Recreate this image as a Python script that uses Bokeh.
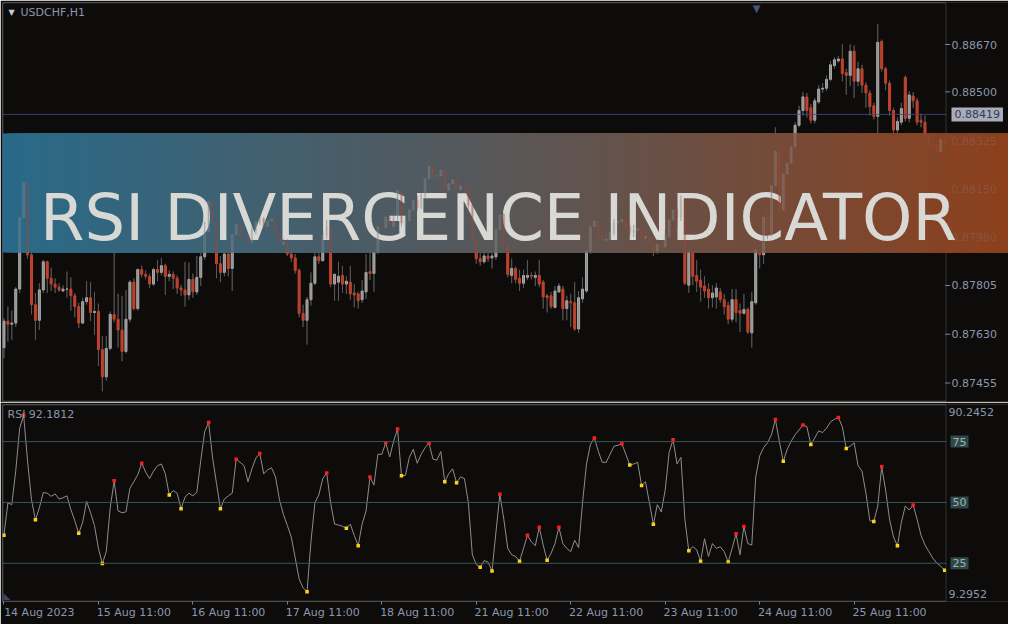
from bokeh.plotting import figure
from bokeh.layouts import column
from bokeh.models import (ColumnDataSource, Range1d, FixedTicker, LinearAxis,
                          Span, Label, BoxAnnotation)
from bokeh.embed import file_html
from bokeh.resources import INLINE

# ------------------------------------------------------------------ data
# USDCHF H1 candles, prices in points (1 point = 0.00001)
opens_pts = [
    87582, 87677, 87666, 87670, 87792, 88048, 88174, 87915, 87736, 87680,
    87789, 87890, 87831, 87810, 87799, 87785, 87792, 87792, 87768, 87729,
    87670, 87747, 87761, 87708, 87712, 87575, 87477, 87579, 87701, 87684,
    87645, 87568, 87684, 87817, 87722, 87862, 87845, 87838, 87810, 87862,
    87852, 87876, 87838, 87845, 87831, 87796, 87789, 87771, 87827, 87782,
    87834, 87908, 87999, 88107, 88041, 87883, 87852, 87918, 87866, 87988,
    88023, 87981, 87978, 87960, 88002, 88034, 88044, 88016, 88037, 88044,
    87988, 87953, 87960, 87918, 87904, 87859, 87705, 87680, 87754, 87813,
    87908, 87894, 87985, 88016, 87810, 87817, 87841, 87810, 87817, 87778,
    87775, 87754, 87782, 87855, 87848, 87925, 88016, 88013, 88051, 88016,
    88051, 88146, 88030, 88037, 88076, 88111, 88086, 88128, 88188, 88233,
    88198, 88198, 88219, 88146, 88170, 88184, 88149, 88163, 88156, 88093,
    87971, 87901, 87890, 87911, 87904, 87908, 88006, 88058, 87953, 87841,
    87866, 87831, 87813, 87834, 87841, 87834, 87841, 87817, 87768, 87768,
    87726, 87782, 87792, 87722, 87747, 87743, 87649, 87757, 87785, 87929,
    88016, 88037, 87988, 87967, 87971, 87995, 88030, 88034, 88041, 88016,
    87995, 88002, 88009, 87974, 87981, 87953, 87929, 87953, 87943, 87981,
    88041, 88076, 88051, 88111, 87806, 87925, 87841, 87824, 87803, 87792,
    87761, 87764, 87782, 87754, 87733, 87684, 87754, 87715, 87705, 87719,
    87635, 87743, 87925, 87915, 88058, 87988, 88163, 88286, 88076, 88205,
    88244, 88303, 88380, 88433, 88482, 88443, 88398, 88464, 88510, 88513,
    88545, 88594, 88611, 88618, 88569, 88559, 88646, 88538, 88583, 88524,
    88496, 88450, 88412, 88681, 88583, 88531, 88433, 88363, 88391, 88552,
    88405, 88485, 88468, 88398, 88391, 88338, 88317, 88307, 88286, 88328,
]
highs_pts = [
    87687, 87729, 87715, 87799, 88076, 88188, 88181, 87929, 87778, 87813,
    87897, 87894, 87869, 87831, 87813, 87806, 87855, 87834, 87778, 87743,
    87761, 87820, 87817, 87782, 87740, 87624, 87624, 87712, 87960, 87775,
    87768, 87789, 87824, 87831, 87866, 87876, 87859, 87848, 87869, 87897,
    87904, 87883, 87859, 87855, 87841, 87806, 87890, 87887, 87848, 87911,
    87939, 88034, 88128, 88114, 88051, 87911, 87936, 87943, 88002, 88051,
    88030, 88002, 87988, 88016, 88051, 88065, 88051, 88055, 88058, 88058,
    88002, 87974, 87971, 87936, 87918, 87866, 87736, 87764, 87852, 87936,
    87925, 88006, 88041, 88023, 87848, 87890, 87876, 87838, 87876, 87810,
    87782, 87824, 87918, 87922, 87953, 88041, 88044, 88076, 88065, 88079,
    88163, 88156, 88086, 88093, 88118, 88128, 88142, 88205, 88268, 88244,
    88226, 88233, 88240, 88181, 88198, 88191, 88177, 88181, 88170, 88111,
    87988, 87936, 87925, 87932, 87925, 88023, 88076, 88065, 87960, 87901,
    87873, 87862, 87862, 87897, 87852, 87855, 87897, 87824, 87775, 87782,
    87803, 87813, 87803, 87768, 87775, 87817, 87785, 87834, 87932, 88037,
    88051, 88044, 88006, 87995, 88009, 88044, 88051, 88058, 88048, 88030,
    88023, 88030, 88023, 87995, 87988, 87964, 87971, 87967, 88002, 88058,
    88086, 88086, 88128, 88118, 87932, 87936, 87897, 87862, 87838, 87813,
    87806, 87813, 87796, 87775, 87747, 87792, 87792, 87740, 87775, 87726,
    87782, 87943, 87953, 88076, 88083, 88177, 88373, 88296, 88233, 88261,
    88321, 88391, 88450, 88499, 88496, 88457, 88478, 88524, 88531, 88559,
    88611, 88625, 88629, 88671, 88583, 88671, 88667, 88608, 88597, 88534,
    88506, 88461, 88744, 88688, 88590, 88541, 88443, 88408, 88461, 88559,
    88503, 88499, 88478, 88422, 88415, 88345, 88328, 88321, 88345, 88338,
]
lows_pts = [
    87544, 87603, 87610, 87656, 87778, 88041, 87901, 87701, 87610, 87645,
    87778, 87778, 87785, 87778, 87782, 87782, 87761, 87715, 87691, 87652,
    87666, 87736, 87677, 87628, 87516, 87425, 87463, 87572, 87673, 87582,
    87533, 87561, 87673, 87715, 87715, 87834, 87827, 87796, 87803, 87820,
    87841, 87771, 87820, 87792, 87775, 87768, 87729, 87754, 87761, 87771,
    87803, 87897, 87978, 88023, 87831, 87817, 87838, 87838, 87785, 87960,
    87967, 87953, 87946, 87953, 87988, 88023, 88002, 88006, 88016, 87978,
    87943, 87939, 87911, 87890, 87848, 87691, 87656, 87593, 87733, 87806,
    87883, 87890, 87971, 87799, 87750, 87750, 87778, 87775, 87754, 87726,
    87722, 87743, 87757, 87824, 87782, 87918, 87988, 88002, 88009, 88009,
    88037, 88016, 87988, 88023, 88065, 88072, 88079, 88118, 88177, 88188,
    88177, 88184, 88135, 88128, 88156, 88135, 88135, 88142, 88079, 87953,
    87883, 87876, 87883, 87890, 87866, 87897, 87995, 87936, 87834, 87813,
    87813, 87785, 87796, 87824, 87827, 87803, 87799, 87722, 87708, 87722,
    87722, 87778, 87680, 87680, 87656, 87642, 87635, 87743, 87778, 87918,
    87988, 87960, 87953, 87953, 87964, 87985, 88016, 88020, 87995, 87981,
    87978, 87988, 87960, 87957, 87939, 87911, 87918, 87925, 87932, 87971,
    88030, 88016, 88037, 87806, 87778, 87806, 87782, 87747, 87761, 87722,
    87726, 87722, 87743, 87701, 87666, 87673, 87673, 87638, 87701, 87631,
    87582, 87736, 87866, 87883, 87971, 87981, 88146, 88058, 88065, 88191,
    88233, 88296, 88373, 88415, 88408, 88387, 88387, 88457, 88496, 88503,
    88538, 88583, 88604, 88538, 88489, 88520, 88478, 88520, 88496, 88443,
    88415, 88401, 88338, 88573, 88506, 88415, 88352, 88352, 88380, 88394,
    88391, 88443, 88380, 88373, 88321, 88303, 88240, 88233, 88275, 88296,
]
closes_pts = [
    87677, 87666, 87670, 87792, 88048, 88174, 87915, 87736, 87680, 87789,
    87890, 87831, 87810, 87799, 87789, 87792, 87792, 87768, 87729, 87670,
    87747, 87761, 87708, 87712, 87575, 87477, 87579, 87701, 87684, 87645,
    87568, 87684, 87817, 87722, 87862, 87845, 87838, 87810, 87862, 87852,
    87876, 87838, 87845, 87831, 87796, 87789, 87771, 87827, 87782, 87834,
    87908, 87999, 88107, 88041, 87883, 87852, 87918, 87866, 87988, 88023,
    87981, 87978, 87960, 88002, 88034, 88044, 88016, 88037, 88044, 87988,
    87960, 87960, 87918, 87904, 87859, 87705, 87680, 87754, 87813, 87908,
    87894, 87985, 88016, 87810, 87845, 87838, 87810, 87820, 87775, 87771,
    87750, 87785, 87852, 87848, 87925, 88016, 88013, 88051, 88016, 88051,
    88146, 88030, 88037, 88076, 88111, 88086, 88128, 88188, 88233, 88198,
    88198, 88219, 88146, 88170, 88184, 88149, 88163, 88156, 88093, 87971,
    87901, 87890, 87911, 87901, 87911, 88006, 88058, 87953, 87845, 87866,
    87827, 87813, 87841, 87841, 87838, 87841, 87810, 87764, 87761, 87729,
    87785, 87803, 87722, 87750, 87743, 87649, 87761, 87792, 87929, 88016,
    88037, 87988, 87967, 87971, 87995, 88030, 88034, 88041, 88016, 87995,
    88002, 88009, 87974, 87981, 87953, 87929, 87953, 87943, 87981, 88041,
    88076, 88051, 88111, 87813, 87925, 87838, 87820, 87799, 87785, 87761,
    87778, 87796, 87754, 87729, 87684, 87754, 87708, 87705, 87719, 87638,
    87747, 87932, 87915, 88051, 87985, 88163, 88286, 88076, 88205, 88244,
    88303, 88380, 88433, 88482, 88433, 88398, 88468, 88510, 88513, 88545,
    88597, 88615, 88618, 88566, 88559, 88646, 88538, 88583, 88524, 88496,
    88447, 88412, 88678, 88583, 88531, 88433, 88363, 88394, 88440, 88405,
    88489, 88468, 88391, 88391, 88338, 88317, 88303, 88286, 88328, 88310,
]
# RSI values, one per bar
rsi_values = [
    36.5, 49.8, 49.1, 63.1, 80.5, 85.8, 67.1, 51.1, 42.9, 47.8,
    54.1, 53.8, 52.5, 53.5, 51.4, 51.9, 52.7, 47.1, 42.5, 37.3,
    41.8, 50.5, 45.8, 40.5, 31.1, 24.9, 29.8, 47.8, 58.9, 46.5,
    45.8, 46.1, 55.8, 58.5, 61.4, 66.1, 62.5, 59.8, 62.9, 65.1,
    65.8, 61.8, 53.1, 54.9, 53.8, 47.4, 52.2, 53.8, 52.7, 54.1,
    67.1, 79.1, 82.9, 68.5, 57.8, 47.4, 51.4, 52.7, 53.8, 67.7,
    66.5, 65.1, 58.5, 63.8, 68.2, 70.1, 61.8, 63.4, 64.2, 60.5,
    51.1, 45.1, 40.5, 35.8, 27.2, 18.5, 14.9, 13.3, 33.8, 49.8,
    53.1, 59.8, 62.1, 49.8, 41.1, 40.7, 40.2, 39.4, 41.1, 36.5,
    32.2, 41.1, 46.5, 60.5, 57.1, 69.8, 69.8, 74.5, 68.7, 75.1,
    80.2, 61.0, 61.1, 68.5, 71.8, 66.1, 69.8, 72.5, 74.3, 67.8,
    67.4, 70.9, 58.5, 61.8, 63.8, 58.1, 60.5, 59.8, 49.8, 28.5,
    24.5, 23.4, 26.1, 25.5, 21.8, 37.8, 53.4, 43.1, 31.1, 28.5,
    27.8, 25.8, 31.1, 36.5, 33.8, 32.2, 39.8, 32.5, 26.2, 29.1,
    33.1, 39.8, 33.1, 31.1, 29.8, 34.5, 31.4, 49.8, 65.8, 73.8,
    76.5, 71.1, 66.5, 66.5, 69.8, 73.1, 73.5, 74.1, 69.8, 65.4,
    65.8, 66.5, 57.0, 58.5, 49.8, 41.0, 49.1, 46.1, 55.1, 70.5,
    75.8, 65.8, 68.5, 43.1, 30.1, 31.8, 30.5, 25.8, 35.1, 27.8,
    33.1, 31.1, 31.8, 29.8, 25.5, 31.1, 37.1, 28.5, 40.1, 33.1,
    32.5, 60.5, 69.1, 72.5, 74.5, 77.8, 84.1, 75.1, 66.9, 71.8,
    75.1, 77.8, 79.8, 81.8, 81.1, 73.8, 76.5, 79.4, 78.7, 80.5,
    83.1, 84.2, 84.9, 81.1, 72.2, 73.1, 74.5, 65.1, 62.9, 53.8,
    42.5, 42.2, 48.5, 64.7, 55.1, 43.1, 35.8, 32.2, 41.8, 48.5,
    46.9, 48.9, 43.1, 36.5, 32.5, 29.8, 27.1, 25.1, 23.8, 22.1,
]
# divergence markers (bar indices)
peak_bars = [5, 28, 35, 52, 59, 65, 82, 93, 97, 100, 108, 126, 133, 136, 141,
             150, 157, 170, 186, 188, 196, 203, 212, 223, 231]
trough_bars = [0, 8, 19, 25, 42, 45, 55, 77, 87, 90, 101, 112, 115, 121, 124,
               131, 138, 159, 162, 165, 174, 177, 184, 198, 205, 214, 221, 227, 239]

date_tick_bars = [0, 24, 48, 72, 96, 120, 144, 168, 192, 216]
date_labels = ["14 Aug 2023", "15 Aug 11:00", "16 Aug 11:00", "17 Aug 11:00",
               "18 Aug 11:00", "21 Aug 11:00", "22 Aug 11:00", "23 Aug 11:00",
               "24 Aug 11:00", "25 Aug 11:00"]
price_ticks = [0.87455, 0.87630, 0.87805, 0.87980, 0.88150, 0.88325, 0.88500, 0.88670]
current_price = 0.88419
rsi_levels = [25, 50, 75]
rsi_low, rsi_high = 9.2952, 90.2452
symbol_text = "USDCHF,H1"
rsi_caption = "RSI 92.1812"
banner_text = "RSI DIVERGENCE INDICATOR"

# ------------------------------------------------------------------ layout / style
FIG_W = 1008
FRAME_L = 2
FRAME_W = FIG_W - FRAME_L          # frames run to the right edge
P_H, P_FRAME_H = 402, 399
R_H, R_FRAME_H = 222, 197
BORDER = 943                        # frame-relative x of the chart's right border
COL_X = 949                         # frame-relative x of the right-hand value column
BAR_PX = 3.936
X0 = -0.367
X1 = X0 + FRAME_W / BAR_PX
BORDER_I = X0 + BORDER / BAR_PX
P_MIN, P_MAX = 0.873885, 0.888208

BG = "#0e0c0a"
OUTLINE = "#7e8699"
TXT = "#8b97ae"
BULL = "#acacac"
BEAR = "#cf4229"
WICK = "#5a5a5a"
FONT = "DejaVu Sans"

# ------------------------------------------------------------------ price panel
n = len(closes_pts)
idx = list(range(n))
o = [v / 1e5 for v in opens_pts]
h = [v / 1e5 for v in highs_pts]
l = [v / 1e5 for v in lows_pts]
c = [v / 1e5 for v in closes_pts]
src = ColumnDataSource(dict(
    i=idx, high=h, low=l,
    top=[max(a, b) for a, b in zip(o, c)],
    bot=[min(a, b) for a, b in zip(o, c)],
    color=[BULL if cc >= oo else BEAR for oo, cc in zip(o, c)],
))

x_range = Range1d(X0, X1)
common = dict(output_backend="svg", toolbar_location=None,
              x_axis_location=None, y_axis_location=None,
              min_border_left=FRAME_L, min_border_right=0,
              background_fill_color=BG, border_fill_color=BG,
              outline_line_color=None)
p = figure(width=FIG_W, height=P_H, x_range=x_range, y_range=Range1d(P_MIN, P_MAX),
           min_border_top=2, min_border_bottom=1, **common)
p.grid.visible = False

p.segment(x0="i", y0="low", x1="i", y1="high", source=src, line_color=WICK, line_width=1)
p.vbar(x="i", width=0.5, top="top", bottom="bot", source=src,
       fill_color="color", line_color="color", line_width=1)

p.add_layout(Span(location=current_price, dimension="width",
                  line_color="#3c3c7a", line_width=1))

band_top, band_bot = 268, 149
band_hi = P_MIN + band_top / P_FRAME_H * (P_MAX - P_MIN)
band_lo = P_MIN + band_bot / P_FRAME_H * (P_MAX - P_MIN)
ticks_out = [t for t in price_ticks if not (band_lo <= t <= band_hi)]
ticks_in = [t for t in price_ticks if band_lo <= t <= band_hi]

# tick marks of the value column (under the banner)
p.scatter([BORDER_I + 0.55] * len(ticks_in), ticks_in, marker="dash", size=5,
          line_color=OUTLINE, line_width=1)

# cover the value column so that horizontal lines stop at the border
p.add_layout(BoxAnnotation(left=BORDER + 0.6, right=FRAME_W + 5, bottom=-5, top=P_FRAME_H + 5,
                           left_units="screen", right_units="screen",
                           top_units="screen", bottom_units="screen",
                           fill_color=BG, fill_alpha=1, line_color=None))
p.add_layout(BoxAnnotation(left=0.5, right=BORDER + 0.5, bottom=0.5, top=P_FRAME_H - 0.5,
                           left_units="screen", right_units="screen",
                           top_units="screen", bottom_units="screen",
                           fill_alpha=0, line_color=OUTLINE, line_width=1))

# banner: horizontal colour gradient built from nested opaque boxes
stops = [(0.0, (40, 106, 137)), (0.5, (89, 87, 88)), (1.0, (141, 64, 28))]


def grad(t):
    for (t0, c0), (t1, c1) in zip(stops[:-1], stops[1:]):
        if t <= t1:
            u = (t - t0) / (t1 - t0)
            return "#%02x%02x%02x" % tuple(int(round(a + (b - a) * u)) for a, b in zip(c0, c1))
    return "#%02x%02x%02x" % stops[-1][1]


step = 6
x0 = -FRAME_L
while x0 < FRAME_W:
    t = min((x0 + FRAME_L + step / 2) / FIG_W, 1.0)
    p.add_layout(BoxAnnotation(left=x0, right=FRAME_W + 5, top=band_top, bottom=band_bot,
                               left_units="screen", right_units="screen",
                               top_units="screen", bottom_units="screen",
                               fill_color=grad(t), fill_alpha=1.0, line_color=None))
    x0 += step
p.add_layout(Label(x=496, y=184, x_units="screen", y_units="screen",
                   text=banner_text, text_font=FONT, text_font_size="64px",
                   text_color="#d8d8d5", text_align="center", text_baseline="alphabetic"))

# candles seen faintly through the banner
p.segment(x0="i", y0="low", x1="i", y1="high", source=src, line_color=WICK,
          line_width=1, line_alpha=0.45, level="overlay")
p.vbar(x="i", width=0.5, top="top", bottom="bot", source=src, fill_color="color",
       line_color="color", line_width=1, fill_alpha=0.2, line_alpha=0.2, level="overlay")

# value column
p.scatter([BORDER_I + 0.55] * len(ticks_out), ticks_out, marker="dash", size=5,
          line_color=OUTLINE, line_width=1, level="overlay")
for t in ticks_out:
    p.add_layout(Label(x=COL_X, y=t, x_units="screen", y_units="data",
                       text=f"{t:.5f}", text_font=FONT, text_font_size="11px",
                       text_color=TXT, text_baseline="middle", text_align="left"))
for t in ticks_in:
    p.add_layout(Label(x=COL_X, y=t, x_units="screen", y_units="data",
                       text=f"{t:.5f}", text_font=FONT, text_font_size="11px",
                       text_color=TXT, text_alpha=0.22,
                       text_baseline="middle", text_align="left"))
p.add_layout(Label(x=COL_X, y=current_price, x_units="screen", y_units="data",
                   text=f"{current_price:.5f}", text_font=FONT, text_font_size="11px",
                   text_color="#2e3c5a", text_baseline="middle", text_align="left",
                   background_fill_color="#a9adb8", padding=3))

p.add_layout(Label(x=9, y=P_FRAME_H - 10, x_units="screen", y_units="screen",
                   text="\u25bc", text_font=FONT, text_font_size="8px",
                   text_color="#c9ced8", text_baseline="middle", text_align="center"))
p.add_layout(Label(x=18, y=P_FRAME_H - 10, x_units="screen", y_units="screen",
                   text=symbol_text, text_font=FONT, text_font_size="11px",
                   text_color=TXT, text_baseline="middle", text_align="left"))
p.add_layout(Label(x=754, y=P_FRAME_H, x_units="screen", y_units="screen",
                   text="\u25bc", text_font=FONT, text_font_size="10px",
                   text_color="#4a5476", text_baseline="top", text_align="center"))

# ------------------------------------------------------------------ RSI panel
r = figure(width=FIG_W, height=R_H, x_range=x_range, y_range=Range1d(rsi_low, rsi_high),
           min_border_top=2, min_border_bottom=R_H - 2 - R_FRAME_H, **common)
r.grid.visible = False

for lv in rsi_levels:
    r.add_layout(Span(location=lv, dimension="width", line_color="#3a5654", line_width=1))

r.line(idx, rsi_values, line_color="#8e8e8e", line_width=1)
r.scatter(peak_bars, [rsi_values[b] for b in peak_bars],
          marker="square", size=3.5, fill_color="#ff1e1e", line_color=None)
r.scatter(trough_bars, [rsi_values[b] for b in trough_bars],
          marker="square", size=3.5, fill_color="#ffd21a", line_color=None)

r.add_layout(BoxAnnotation(left=BORDER + 0.6, right=FRAME_W + 5, bottom=-5, top=R_FRAME_H + 5,
                           left_units="screen", right_units="screen",
                           top_units="screen", bottom_units="screen",
                           fill_color=BG, fill_alpha=1, line_color=None))
r.add_layout(BoxAnnotation(left=0.5, right=BORDER + 0.5, bottom=0.5, top=R_FRAME_H - 0.5,
                           left_units="screen", right_units="screen",
                           top_units="screen", bottom_units="screen",
                           fill_alpha=0, line_color=OUTLINE, line_width=1))

tick_axis = LinearAxis(ticker=FixedTicker(ticks=date_tick_bars),
                       major_tick_out=3, major_tick_in=0,
                       minor_tick_out=0, minor_tick_in=0,
                       major_label_text_font_size="0px", major_label_standoff=0,
                       major_label_overrides={b: "" for b in date_tick_bars},
                       axis_line_color=None, major_tick_line_color=OUTLINE)
label_pos = [b + 9 for b in date_tick_bars]
label_axis = LinearAxis(ticker=FixedTicker(ticks=label_pos),
                        major_label_overrides=dict(zip(label_pos, date_labels)),
                        major_tick_out=0, major_tick_in=0,
                        minor_tick_out=0, minor_tick_in=0,
                        major_label_standoff=1, axis_line_color=None,
                        major_label_text_font=FONT, major_label_text_font_size="11px",
                        major_label_text_color=TXT)
r.add_layout(tick_axis, "below")
r.add_layout(label_axis, "below")

r.add_layout(Label(x=5, y=rsi_high, x_units="screen", y_units="data", y_offset=-9.5,
                   text=rsi_caption, text_font=FONT, text_font_size="11px",
                   text_color=TXT, text_baseline="middle", text_align="left"))
r.add_layout(Label(x=COL_X - 3, y=rsi_high, x_units="screen", y_units="data", y_offset=-7.5,
                   text=f"{rsi_high:.4f}", text_font=FONT, text_font_size="11px",
                   text_color=TXT, text_baseline="middle", text_align="left"))
r.add_layout(Label(x=COL_X - 3, y=rsi_low, x_units="screen", y_units="data", y_offset=8,
                   text=f"{rsi_low:.4f}", text_font=FONT, text_font_size="11px",
                   text_color=TXT, text_baseline="middle", text_align="left"))
for lv in rsi_levels:
    r.add_layout(Label(x=COL_X - 1, y=lv, x_units="screen", y_units="data",
                       text=str(lv), text_font=FONT, text_font_size="11px",
                       text_color="#a3afbd", text_baseline="middle", text_align="left",
                       background_fill_color="#2d4947", padding=2))
r.add_layout(Label(x=1, y=1, x_units="screen", y_units="screen",
                   text="\u25e3", text_font=FONT, text_font_size="9px",
                   text_color="#3e4468", text_baseline="bottom", text_align="left"))

layout = column(p, r)
open("out.html", "w").write(file_html(layout, INLINE, title="USDCHF RSI divergence"))
